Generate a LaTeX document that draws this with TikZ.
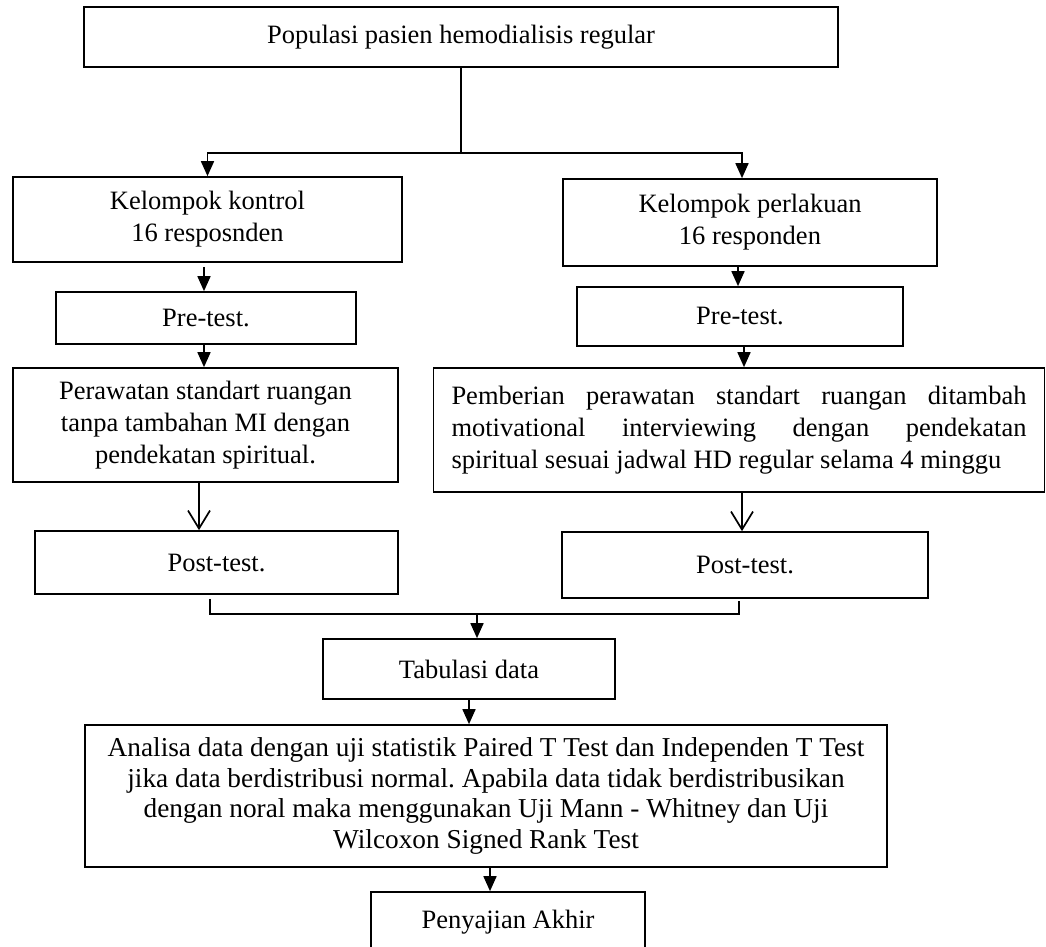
\documentclass[tikz,border=0pt]{standalone}
\usepackage{fontspec}
\setmainfont{Liberation Serif}
\usetikzlibrary{arrows.meta}
\frenchspacing
\begin{document}
\begin{tikzpicture}[x=1pt,y=-1pt,
  box/.style={draw, line width=1.7pt, inner sep=0pt, align=center, font=\fontsize{26.5}{32}\selectfont},
  ln/.style={line width=1.7pt},
  arr/.style={line width=1.7pt, -{Triangle[length=15pt,width=13pt]}},
  oarr/.style={line width=1.7pt, -{Straight Barb[length=18pt,width=22pt]}}]
\useasboundingbox (0,0) rectangle (1046,946);
\node[box, minimum width=754, minimum height=60] (top) at (461,37) {Populasi pasien hemodialisis regular};
\node[box, minimum width=389, minimum height=85] (kk) at (207.5,219.5) {Kelompok kontrol\\16 resposnden};
\node[box, minimum width=374, minimum height=87] (kp) at (750,222.5) {Kelompok perlakuan\\16 responden};
\node[box, minimum width=300, minimum height=52] (prel) at (206,318) {Pre-test.};
\node[box, minimum width=326, minimum height=59] (prer) at (740,316.5) {Pre-test.};
\node[box, minimum width=385, minimum height=114] (perl) at (205.5,425) {Perawatan standart ruangan\\tanpa tambahan MI dengan\\pendekatan spiritual.};
\node[box, minimum width=611, minimum height=124, text width=575, align=justify] (perr) at (739,430) {Pemberian perawatan standart ruangan ditambah\linebreak motivational interviewing dengan pendekatan\linebreak spiritual sesuai jadwal HD regular selama 4 minggu};
\node[box, minimum width=363, minimum height=63] (postl) at (216.5,562.5) {Post-test.};
\node[box, minimum width=366, minimum height=66] (postr) at (745,565) {Post-test.};
\node[box, minimum width=292, minimum height=60] (tab) at (469,669) {Tabulasi data};
\node[box, minimum width=802, minimum height=142, font=\fontsize{27.3}{30.5}\selectfont] (ana) at (486,796) {Analisa data dengan uji statistik Paired T Test dan Independen T Test\\jika data berdistribusi normal. Apabila data tidak berdistribusikan\\dengan noral maka menggunakan Uji Mann - Whitney dan Uji\\Wilcoxon Signed Rank Test};
\node[box, minimum width=274, minimum height=60] (pen) at (508,922) {Penyajian Akhir};
% top split
\coordinate (j1) at (461,153);
\draw[ln] (top.south) -- (j1);
\draw[arr] (j1) -| (kk.north);
\draw[arr] (j1) -| ([xshift=-8pt]kp.north);
% left column
\draw[arr] ([xshift=-3.5pt,yshift=-4pt]kk.south) -- ([xshift=-2pt]prel.north);
\draw[arr] ([xshift=-2pt]prel.south) -- ([xshift=-1.5pt]perl.north);
\draw[oarr] ([xshift=-6.5pt]perl.south) -- ([xshift=-17.5pt]postl.north);
% right column
\draw[arr] ([xshift=-12pt]kp.south) -- ([xshift=-2pt]prer.north);
\draw[arr] ([xshift=4pt]prer.south) -- ([xshift=5pt]perr.north);
\draw[oarr] ([xshift=3pt]perr.south) -- ([xshift=-3pt]postr.north);
% merge
\coordinate (j2) at (477,614);
\draw[ln] ([xshift=-6.5pt,yshift=-4pt]postl.south) |- (j2) -| ([xshift=-6pt,yshift=-2pt]postr.south);
\draw[arr] (j2) -- (j2 |- tab.north);
\draw[arr] (tab.south) -- ([xshift=-17pt]ana.north);
\draw[arr] ([xshift=4pt]ana.south) -- ([xshift=-18pt]pen.north);
\end{tikzpicture}
\end{document}
